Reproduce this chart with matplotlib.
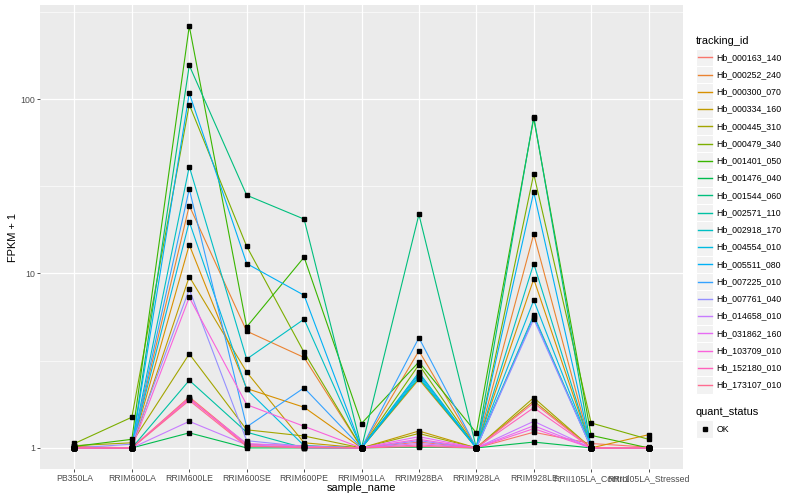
import matplotlib
matplotlib.use("Agg")
import matplotlib.pyplot as plt
from matplotlib.patches import Rectangle
from matplotlib.lines import Line2D
from matplotlib.ticker import NullFormatter
import numpy as np

plt.rcParams['font.family'] = ['Liberation Sans', 'DejaVu Sans']

# --- data ---
samples = ["PB350LA", "RRIM600LA", "RRIM600LE", "RRIM600SE", "RRIM600PE",
           "RRIM901LA", "RRIM928BA", "RRIM928LA", "RRIM928LE",
           "RRII105LA_Control", "RRII105LA_Stressed"]

tracking_ids = ["Hb_000163_140", "Hb_000252_240", "Hb_000300_070", "Hb_000334_160",
                "Hb_000445_310", "Hb_000479_340", "Hb_001401_050", "Hb_001476_040",
                "Hb_001544_060", "Hb_002571_110", "Hb_002918_170", "Hb_004554_010",
                "Hb_005511_080", "Hb_007225_010", "Hb_007761_040", "Hb_014658_010",
                "Hb_031862_160", "Hb_103709_010", "Hb_152180_010", "Hb_173107_010"]

# FPKM + 1, one row per tracking_id, one column per sample
fpkm_plus1 = [
    [1.02, 1.00, 1.96, 1.05, 1.03, 1.00, 1.08, 1.00, 1.23, 1.06, 1.01],
    [1.00, 1.00, 24.5, 4.67, 3.30, 1.00, 3.60, 1.00, 16.8, 1.00, 1.00],
    [1.00, 1.00, 14.6, 2.19, 1.71, 1.00, 2.47, 1.00, 9.29, 1.00, 1.19],
    [1.01, 1.00, 9.60, 2.72, 1.07, 1.00, 1.25, 1.00, 1.86, 1.00, 1.00],
    [1.03, 1.07, 3.46, 1.27, 1.17, 1.00, 1.21, 1.00, 1.94, 1.00, 1.00],
    [1.06, 1.50, 93.0, 14.3, 3.53, 1.00, 3.00, 1.00, 37.2, 1.39, 1.12],
    [1.02, 1.12, 262., 4.94, 12.4, 1.38, 3.11, 1.22, 77.5, 1.18, 1.00],
    [1.00, 1.00, 1.22, 1.00, 1.00, 1.00, 1.01, 1.00, 1.08, 1.00, 1.00],
    [1.00, 1.00, 156., 28.1, 20.5, 1.00, 21.8, 1.00, 79.3, 1.00, 1.00],
    [1.00, 1.00, 2.44, 1.23, 1.00, 1.00, 2.52, 1.00, 5.77, 1.00, 1.00],
    [1.00, 1.00, 41.0, 3.23, 5.47, 1.00, 2.71, 1.00, 11.4, 1.00, 1.00],
    [1.00, 1.00, 19.8, 2.17, 1.03, 1.00, 2.58, 1.00, 7.03, 1.00, 1.00],
    [1.00, 1.00, 108., 11.4, 7.50, 1.00, 2.65, 1.00, 29.3, 1.00, 1.00],
    [1.00, 1.00, 30.5, 1.32, 2.21, 1.00, 4.28, 1.00, 5.65, 1.00, 1.00],
    [1.00, 1.05, 8.10, 1.10, 1.02, 1.00, 1.10, 1.00, 5.47, 1.00, 1.00],
    [1.00, 1.00, 1.42, 1.04, 1.01, 1.00, 1.06, 1.00, 1.42, 1.00, 1.00],
    [1.00, 1.00, 1.90, 1.06, 1.02, 1.00, 1.16, 1.00, 1.34, 1.00, 1.00],
    [1.00, 1.00, 7.30, 1.77, 1.33, 1.00, 1.12, 1.00, 1.29, 1.00, 1.00],
    [1.00, 1.00, 1.93, 1.03, 1.00, 1.00, 1.04, 1.00, 1.70, 1.00, 1.00],
    [1.00, 1.00, 1.87, 1.02, 1.01, 1.00, 1.02, 1.00, 1.81, 1.00, 1.00],
]

# ggplot2 hue palette, 20 levels
colors = ["#F8766D", "#EA8331", "#D89000", "#C09B00", "#A3A500", "#7CAE00",
          "#39B600", "#00BB4E", "#00BF7D", "#00C1A3", "#00BFC4", "#00BAE0",
          "#00B0F6", "#35A2FF", "#9590FF", "#C77CFF", "#E76BF3", "#FA62DB",
          "#FF62BC", "#FF6C91"]

W, H = 800, 500


def fx(px):
    return px / W


def fy(py):
    return 1 - py / H


fig = plt.figure(figsize=(8, 5), dpi=100)
ax = fig.add_axes([fx(40), fy(469), 643 / W, 464 / H])
ax.set_facecolor('#EBEBEB')
for s in ax.spines.values():
    s.set_visible(False)

x = np.arange(len(samples))
for row, col in zip(fpkm_plus1, colors):
    ax.plot(x, row, color=col, lw=0.8, zorder=2)
for row in fpkm_plus1:
    ax.plot(x, row, ls='none', marker='s', ms=2.6, color='black', zorder=3)

ax.set_yscale('log')
vals = np.log10(np.array(fpkm_plus1))
rng = vals.max() - vals.min()
ax.set_ylim(10 ** (vals.min() - 0.05 * rng), 10 ** (vals.max() + 0.05 * rng))
ax.set_xlim(-0.6, len(samples) - 0.4)

ax.set_yticks([1, 10, 100])
ax.set_yticklabels(['1', '10', '100'])
ax.set_yticks([10 ** 0.5, 10 ** 1.5, 10 ** 2.5], minor=True)
ax.yaxis.set_minor_formatter(NullFormatter())
ax.set_xticks(x)
ax.set_xticklabels(samples)

ax.grid(True, which='major', color='white', lw=0.9)
ax.grid(True, which='minor', axis='y', color='white', lw=0.45)
ax.set_axisbelow(True)
ax.tick_params(which='major', length=2.0, width=0.6, color='#333333',
               labelsize=6.3, labelcolor='#4D4D4D', pad=1.5)
ax.tick_params(which='minor', length=0)

fig.text(fx(361.5), fy(488), 'sample_name', fontsize=7.9, ha='center', va='center')
fig.text(fx(13), fy(237), 'FPKM + 1', fontsize=7.9, ha='center', va='center',
         rotation=90)

# legend: tracking_id
fig.text(fx(696), fy(40.5), 'tracking_id', fontsize=7.9, ha='left', va='center')
step = 17.25
for i, (name, col) in enumerate(zip(tracking_ids, colors)):
    yc = 57.3 + i * step
    fig.add_artist(Rectangle((fx(696), fy(yc + step / 2)), step / W, step / H,
                             facecolor='#F2F2F2', edgecolor='white', lw=0.8,
                             transform=fig.transFigure))
    fig.add_artist(Line2D([fx(698), fx(711.5)], [fy(yc), fy(yc)], color=col,
                          lw=1.0, transform=fig.transFigure))
    fig.text(fx(716.5), fy(yc), name, fontsize=6.3, ha='left', va='center')

# legend: quant_status
fig.text(fx(696), fy(412.3), 'quant_status', fontsize=7.9, ha='left', va='center')
fig.add_artist(Rectangle((fx(696), fy(429 + step / 2)), step / W, step / H,
                         facecolor='#F2F2F2', edgecolor='white', lw=0.8,
                         transform=fig.transFigure))
fig.add_artist(Line2D([fx(704.6)], [fy(429)], ls='none', marker='s', ms=2.6,
                      color='black', transform=fig.transFigure))
fig.text(fx(716.5), fy(429), 'OK', fontsize=6.3, ha='left', va='center')

fig.savefig('out.png', dpi=100)
